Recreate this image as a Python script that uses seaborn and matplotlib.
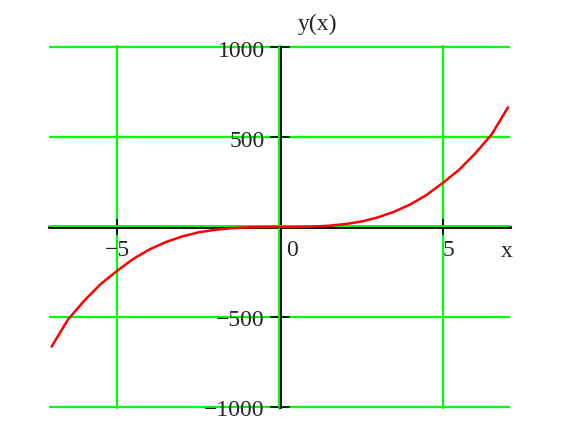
import matplotlib
matplotlib.use('Agg')
import matplotlib.pyplot as plt
import matplotlib.transforms as mtransforms
import pandas as pd
import seaborn as sns

# values
x_vals = [-7.0, -6.5, -6.0, -5.5, -5.0, -4.5, -4.0, -3.5, -3.0, -2.5, -2.0, -1.5, -1.0, -0.5,
          0.0, 0.5, 1.0, 1.5, 2.0, 2.5, 3.0, 3.5, 4.0, 4.5, 5.0, 5.5, 6.0, 6.5, 7.0]
y_vals = [-665, -515, -410, -318, -245, -178, -125, -84, -53, -30, -16, -7, -2, 0,
          0, 0, 2, 7, 16, 30, 53, 84, 125, 178, 245, 318, 410, 515, 665]

x_ticks = [-5, 0, 5]
x_tick_labels = ['\u22125', '0', '5']
y_ticks = [-1000, -500, 0, 500, 1000]
y_tick_labels = ['\u22121000', '\u2212500', '', '500', '1000']

df = pd.DataFrame({'x': x_vals, 'y': y_vals})

sns.set_style('white')
plt.rcParams['font.family'] = ['Liberation Serif', 'DejaVu Serif']

GREEN = '#00ff00'

fig = plt.figure(figsize=(5.74, 4.34), dpi=100)
# a little headroom so the outer grid lines are not cut in half
ax = fig.add_axes([0.0854, 0.0585, 0.803, 0.837])

ax.set_xlim(-7.08, 7.06)
ax.set_ylim(-1010, 1010)

ax.set_xticks(x_ticks)
ax.set_yticks(y_ticks)
ax.grid(True, color=GREEN, linewidth=1.6, zorder=0)
ax.set_axisbelow(True)

# axes through the origin, Mathcad style
for side in ['top', 'right']:
    ax.spines[side].set_visible(False)
ax.spines['left'].set_position(('data', 0))
ax.spines['bottom'].set_position(('data', 0))
ax.spines['left'].set_bounds(-1000, 1000)
for side in ['left', 'bottom']:
    ax.spines[side].set_color('black')
    ax.spines[side].set_linewidth(2)
    ax.spines[side].set_zorder(2)

ax.tick_params(axis='y', left=True, direction='inout', length=14, width=1.2,
               color='black', labelleft=False)
ax.tick_params(axis='x', bottom=True, direction='inout', length=11, width=1.2,
               color='black', labelbottom=False)

# green half of the thick zero axes
up = mtransforms.offset_copy(ax.transData, fig=fig, x=0, y=1.2, units='dots')
left = mtransforms.offset_copy(ax.transData, fig=fig, x=-1.2, y=0, units='dots')
ax.plot([-7.08, 7.06], [0, 0], color=GREEN, lw=1.4, transform=up, zorder=3)
ax.plot([0, 0], [-1000, 1000], color=GREEN, lw=1.4, transform=left, zorder=3)

sns.lineplot(data=df, x='x', y='y', color='red', linewidth=1.8, ax=ax, zorder=4)
ax.set_xlabel('')
ax.set_ylabel('')

# tick labels placed like Mathcad does
x_offsets = [-12, 6, 0]
for t, lab, dx in zip(x_ticks, x_tick_labels, x_offsets):
    ax.annotate(lab, xy=(t, 0), xytext=(dx, -24), textcoords='offset pixels',
                ha='left', va='center', fontsize=17)
for t, lab in zip(y_ticks, y_tick_labels):
    ax.annotate(lab, xy=(0, t), xytext=(-15, -4), textcoords='offset pixels',
                ha='right', va='center', fontsize=17)

ax.annotate('y(x)', xy=(0, 1000), xytext=(38, 23), textcoords='offset pixels',
            ha='center', va='center', fontsize=17, annotation_clip=False)
ax.annotate('x', xy=(7.06, 0), xytext=(-3, -25), textcoords='offset pixels',
            ha='center', va='center', fontsize=17, annotation_clip=False)

fig.savefig('out.png', dpi=100, facecolor='white')
